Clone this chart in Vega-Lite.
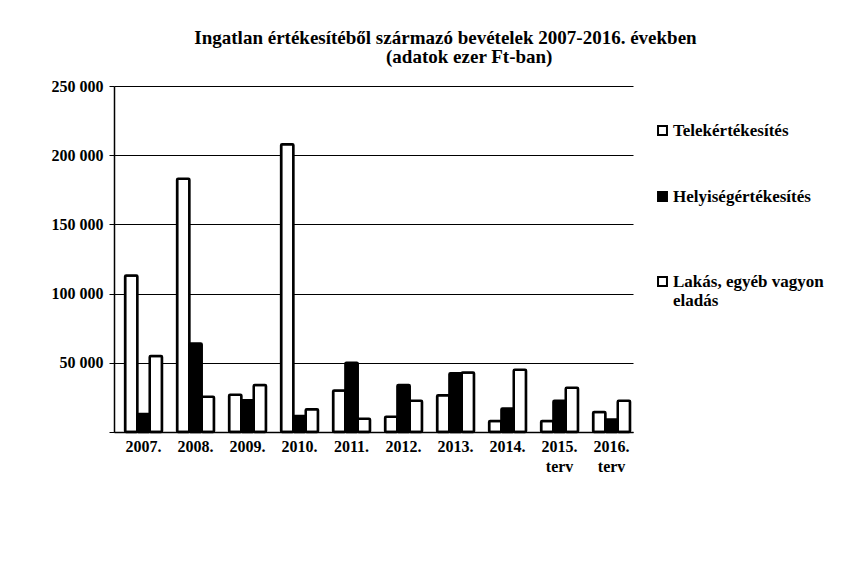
{
  "$schema": "https://vega.github.io/schema/vega-lite/v6.json",
  "autosize": "none",
  "width": 519,
  "height": 346,
  "padding": {"left": 114, "top": 86, "right": 208, "bottom": 144},
  "background": "white",
  "title": {
    "text": ["Ingatlan értékesítéből származó bevételek 2007-2016. években", "\u200b\u00a0\u00a0\u00a0\u00a0\u00a0\u00a0\u00a0\u00a0\u00a0\u00a0(adatok ezer Ft-ban)"],
    "font": "Liberation Serif",
    "fontSize": 19,
    "fontWeight": "bold",
    "color": "black",
    "anchor": "middle",
    "dx": 72,
    "offset": 11,
    "lineHeight": 19
  },
  "data": {
    "values": [
      {"ev": "2007.", "sorozat": "Telekértékesítés", "ertek": 113000},
      {"ev": "2007.", "sorozat": "Helyiségértékesítés", "ertek": 13000},
      {"ev": "2007.", "sorozat": "Lakás, egyéb vagyon eladás", "ertek": 55000},
      {"ev": "2008.", "sorozat": "Telekértékesítés", "ertek": 183000},
      {"ev": "2008.", "sorozat": "Helyiségértékesítés", "ertek": 64000},
      {"ev": "2008.", "sorozat": "Lakás, egyéb vagyon eladás", "ertek": 25500},
      {"ev": "2009.", "sorozat": "Telekértékesítés", "ertek": 27000},
      {"ev": "2009.", "sorozat": "Helyiségértékesítés", "ertek": 23000},
      {"ev": "2009.", "sorozat": "Lakás, egyéb vagyon eladás", "ertek": 34000},
      {"ev": "2010.", "sorozat": "Telekértékesítés", "ertek": 208000},
      {"ev": "2010.", "sorozat": "Helyiségértékesítés", "ertek": 11500},
      {"ev": "2010.", "sorozat": "Lakás, egyéb vagyon eladás", "ertek": 16500},
      {"ev": "2011.", "sorozat": "Telekértékesítés", "ertek": 30000},
      {"ev": "2011.", "sorozat": "Helyiségértékesítés", "ertek": 50000},
      {"ev": "2011.", "sorozat": "Lakás, egyéb vagyon eladás", "ertek": 9500},
      {"ev": "2012.", "sorozat": "Telekértékesítés", "ertek": 11000},
      {"ev": "2012.", "sorozat": "Helyiségértékesítés", "ertek": 34000},
      {"ev": "2012.", "sorozat": "Lakás, egyéb vagyon eladás", "ertek": 22500},
      {"ev": "2013.", "sorozat": "Telekértékesítés", "ertek": 26500},
      {"ev": "2013.", "sorozat": "Helyiségértékesítés", "ertek": 42500},
      {"ev": "2013.", "sorozat": "Lakás, egyéb vagyon eladás", "ertek": 43000},
      {"ev": "2014.", "sorozat": "Telekértékesítés", "ertek": 8000},
      {"ev": "2014.", "sorozat": "Helyiségértékesítés", "ertek": 17000},
      {"ev": "2014.", "sorozat": "Lakás, egyéb vagyon eladás", "ertek": 45000},
      {"ev": "2015.\nterv", "sorozat": "Telekértékesítés", "ertek": 8000},
      {"ev": "2015.\nterv", "sorozat": "Helyiségértékesítés", "ertek": 22500},
      {"ev": "2015.\nterv", "sorozat": "Lakás, egyéb vagyon eladás", "ertek": 32000},
      {"ev": "2016.\nterv", "sorozat": "Telekértékesítés", "ertek": 14500},
      {"ev": "2016.\nterv", "sorozat": "Helyiségértékesítés", "ertek": 9000},
      {"ev": "2016.\nterv", "sorozat": "Lakás, egyéb vagyon eladás", "ertek": 22500}
    ]
  },
  "mark": {"type": "bar", "stroke": "black", "strokeWidth": 2.5, "cornerRadius": 1},
  "encoding": {
    "x": {
      "field": "ev",
      "type": "nominal",
      "sort": null,
      "scale": {"paddingInner": 0.29, "paddingOuter": 0.135, "align": 0.79},
      "axis": {
        "title": null,
        "labelAngle": 0,
        "labelExpr": "split(datum.label, '\\n')",
        "labelFont": "Liberation Serif",
        "labelFontSize": 16,
        "labelFontWeight": "bold",
        "labelColor": "black",
        "labelPadding": 6,
        "labelLineHeight": 20,
        "ticks": false,
        "domainColor": "black",
        "domainWidth": 1.5
      }
    },
    "xOffset": {
      "field": "sorozat",
      "type": "nominal",
      "sort": ["Telekértékesítés", "Helyiségértékesítés", "Lakás, egyéb vagyon eladás"],
      "scale": {"paddingInner": 0, "paddingOuter": 0}
    },
    "y": {
      "field": "ertek",
      "type": "quantitative",
      "scale": {"domain": [0, 250000], "nice": false},
      "axis": {
        "title": null,
        "values": [0, 50000, 100000, 150000, 200000, 250000],
        "labelExpr": "datum.value == 0 ? '' : format(datum.value, ',d')",
        "labelFont": "Liberation Serif",
        "labelFontSize": 16,
        "labelFontWeight": "bold",
        "labelColor": "black",
        "labelPadding": 6,
        "tickColor": "black",
        "tickSize": 5,
        "domainColor": "black",
        "domainWidth": 1.5,
        "gridColor": "black",
        "gridWidth": 1.2
      }
    },
    "fill": {
      "field": "sorozat",
      "type": "nominal",
      "sort": ["Telekértékesítés", "Helyiségértékesítés", "Lakás, egyéb vagyon eladás"],
      "scale": {
        "domain": ["Telekértékesítés", "Helyiségértékesítés", "Lakás, egyéb vagyon eladás"],
        "range": ["white", "black", "white"]
      },
      "legend": {
        "title": null,
        "orient": "none",
        "legendX": 540,
        "legendY": 36,
        "symbolType": "square",
        "symbolSize": 80,
        "symbolStrokeColor": "black",
        "symbolStrokeWidth": 2,
        "rowPadding": 48,
        "labelFont": "Liberation Serif",
        "labelFontSize": 17,
        "labelFontWeight": "bold",
        "labelColor": "black",
        "labelLimit": 300,
        "labelOffset": 2,
        "labelLineHeight": 20,
        "labelExpr": "datum.label == 'Lakás, egyéb vagyon eladás' ? ['Lakás, egyéb vagyon', 'eladás'] : datum.label == 'Helyiségértékesítés' ? ['Helyiségértékesítés', '\u00a0'] : datum.label"
      }
    }
  },
  "config": {
    "locale": {
      "number": {"decimal": ",", "thousands": " ", "grouping": [3], "currency": ["", ""]}
    },
    "view": {"stroke": null}
  }
}
